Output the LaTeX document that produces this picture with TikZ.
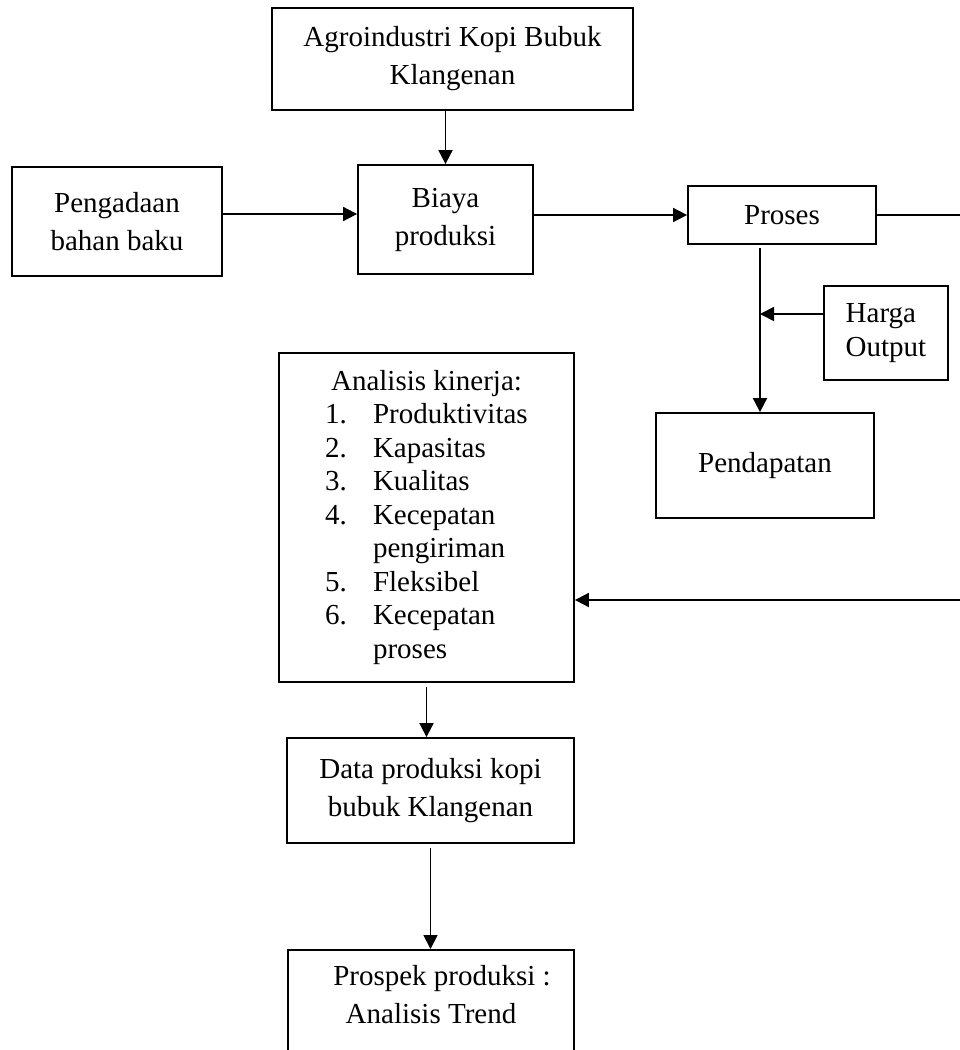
\documentclass[tikz,border=0pt]{standalone}
\usepackage{fontspec}
\setmainfont{Liberation Serif}
\usetikzlibrary{arrows.meta}

\begin{document}
\begin{tikzpicture}[
    x=1pt, y=-1pt,
    >={Triangle[length=14pt, width=14pt]},
    block/.style={rectangle, draw, line width=1.8pt, align=center, font=\fontsize{29}{38}\selectfont},
    listblock/.style={block, font=\fontsize{29}{33.5}\selectfont},
    flow/.style={->, line width=1.8pt}
]
\useasboundingbox (0,0) rectangle (960,1050);
\clip (0,0) rectangle (960,1050);

% === INPUTS ===
\node[block, minimum width=361pt, minimum height=102pt] (agro) at (452.5,59) {Agroindustri Kopi Bubuk\\Klangenan};
\node[block, minimum width=210pt, minimum height=109pt] (pengadaan) at (117,221.5) {Pengadaan\\bahan baku};
\node[block, minimum width=175pt, minimum height=109pt] (biaya) at (445.5,219.5) {Biaya\\produksi};
\node[block, minimum width=188pt, minimum height=58pt] (proses) at (782,215) {Proses};

% Harga output and pendapatan
\node[listblock, align=left, minimum width=124pt, minimum height=94pt] (harga) at (886,333) {Harga\\Output};
\node[block, minimum width=218pt, minimum height=105pt] (pendapatan) at (765,465.5) {Pendapatan};

% === ANALISIS ===
\node[listblock, minimum width=295pt, minimum height=329pt] (analisis) at (426.5,517.5) {%
    \begin{tabular}{@{}p{48pt}@{}l@{}}
        \multicolumn{2}{c}{Analisis kinerja:}\\
        1. & Produktivitas\\
        2. & Kapasitas\\
        3. & Kualitas\\
        4. & Kecepatan\\
           & pengiriman\\
        5. & Fleksibel\\
        6. & Kecepatan\\
           & proses
    \end{tabular}};

\node[block, minimum width=287pt, minimum height=105pt] (data) at (430.5,790.5) {Data produksi kopi\\bubuk Klangenan};
\node[block, minimum width=286pt, minimum height=120pt, anchor=north] (prospek) at (431,949) {%
    \begin{tabular}{@{}c@{}}
        \hspace*{22pt}Prospek produksi :\\
        Analisis Trend\\[26pt]
    \end{tabular}};

% === CONNECTORS ===
\coordinate (merge) at (760,314);
\coordinate (back) at (975,600);

\draw[flow] (agro.south -| biaya.north) -- (biaya.north);
\draw[flow] ([yshift=7.5pt]pengadaan.east) -- ([yshift=7.5pt]pengadaan.east -| biaya.west);
\draw[flow] (biaya.east |- proses.west) -- (proses.west);

% Proses to pendapatan, with harga output joining
\draw[flow] ([yshift=-3pt]proses.south -| merge) -- (pendapatan.north -| merge);
\draw[flow] (harga.west |- merge) -- (merge);

% Feedback to analisis kinerja
\draw[flow] (proses.east) -| (back) -- (back -| analisis.east);

\draw[flow] ([yshift=-4pt]analisis.south) -- (analisis.south |- data.north);
\draw[flow] ([yshift=-4pt]data.south) -- (data.south |- prospek.north);

\end{tikzpicture}
\end{document}
